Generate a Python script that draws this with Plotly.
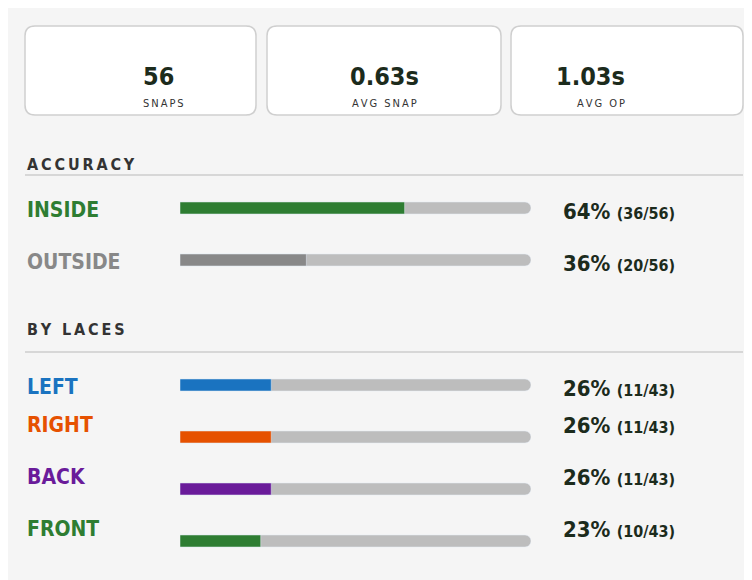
import plotly.graph_objects as go

# stat cards
card_values = ['56', '0.63s', '1.03s']
card_labels = ['SNAPS', 'AVG SNAP', 'AVG OP']

# bar rows
sections = ['ACCURACY', 'BY LACES']
row_labels = ['INSIDE', 'OUTSIDE', 'LEFT', 'RIGHT', 'BACK', 'FRONT']
row_pct = [64, 36, 26, 26, 26, 23]
row_counts = ['36/56', '20/56', '11/43', '11/43', '11/43', '10/43']
row_colors = ['#2e7d32', '#888888', '#1a73c0', '#e65100', '#6a1b9a', '#2e7d32']

W, H = 752, 580
FONT = 'DejaVu Sans Condensed, Liberation Sans Narrow, sans-serif'
DARK = '#1c2b1c'

def spaced(s):
    return '\u2009'.join(s)

def px(x):
    return x / W

def py(y):
    return 1 - y / H

# pixel layout
row_y = [200, 252, 377, 429, 481, 533]
head_y = [145, 321]
rule_y = [167, 344]
cards_x = [(17, 248), (259, 493), (503, 735)]

fig = go.Figure()
# tracks
fig.add_trace(go.Bar(x=[100] * len(row_labels), y=row_y, orientation='h', width=12,
                     marker=dict(color='#bdbdbd', cornerradius=6), hoverinfo='skip',
                     showlegend=False))
fig.add_trace(go.Bar(x=row_pct, y=row_y, orientation='h', width=12,
                     marker=dict(color=row_colors, cornerradius=6), hoverinfo='skip',
                     showlegend=False))

def rrect(x0, y0, x1, y1, r):
    pts = []
    x0, x1 = px(x0), px(x1)
    rx, ry = r / W, r / H
    y0, y1 = py(y0), py(y1)  # y0 top (larger), y1 bottom
    return (f'M {x0+rx},{y0} L {x1-rx},{y0} Q {x1},{y0} {x1},{y0-ry} L {x1},{y1+ry} '
            f'Q {x1},{y1} {x1-rx},{y1} L {x0+rx},{y1} Q {x0},{y1} {x0},{y1+ry} '
            f'L {x0},{y0-ry} Q {x0},{y0} {x0+rx},{y0} Z')

shapes = []
annos = []
for (x0, x1), v, lab in zip(cards_x, card_values, card_labels):
    shapes.append(dict(type='path', path=rrect(x0, 18, x1, 107, 10), xref='paper', yref='paper',
                       fillcolor='white', line=dict(color='#cfcfcf', width=1.5), layer='below'))
    cx = px((x0 + x1) / 2)
    annos.append(dict(x=cx, y=py(52), xref='paper', yref='paper', text=f'<b>{v}</b>',
                      showarrow=False, font=dict(size=25, color=DARK, family=FONT)))
    annos.append(dict(x=cx, y=py(87), xref='paper', yref='paper', text=spaced(lab),
                      showarrow=False, font=dict(size=11, color='#333', family=FONT)))

for s, hy, ry in zip(sections, head_y, rule_y):
    annos.append(dict(x=px(17), y=py(hy), xref='paper', yref='paper', text=f'<b>{spaced(s)}</b>',
                      showarrow=False, xanchor='left',
                      font=dict(size=16, color='#333', family=FONT)))
    shapes.append(dict(type='line', x0=px(17), x1=px(735), y0=py(ry), y1=py(ry),
                       xref='paper', yref='paper', line=dict(color='#cccccc', width=1.5)))

for lab, p, c, col, y in zip(row_labels, row_pct, row_counts, row_colors, row_y):
    annos.append(dict(x=px(17), y=py(y + 2), xref='paper', yref='paper', text=f'<b>{lab}</b>',
                      showarrow=False, xanchor='left',
                      font=dict(size=21, color=col, family=FONT)))
    annos.append(dict(x=px(553), y=py(y + 3), xref='paper', yref='paper', showarrow=False,
                      xanchor='left',
                      text=f"<b>{p}%</b> <span style='font-size:16px'><b>({c})</b></span>",
                      font=dict(size=22, color=DARK, family=FONT)))

fig.update_layout(
    width=W, height=H, margin=dict(l=0, r=0, t=0, b=0),
    paper_bgcolor='#f5f5f5', plot_bgcolor='rgba(0,0,0,0)', barmode='overlay',
    xaxis=dict(range=[0, 100], domain=[172 / W, 523 / W], visible=False, fixedrange=True),
    yaxis=dict(range=[H, 0], domain=[0, 1], visible=False, fixedrange=True),
    shapes=shapes, annotations=annos, showlegend=False,
)
fig.write_html('out.html', config={'displayModeBar': False})
